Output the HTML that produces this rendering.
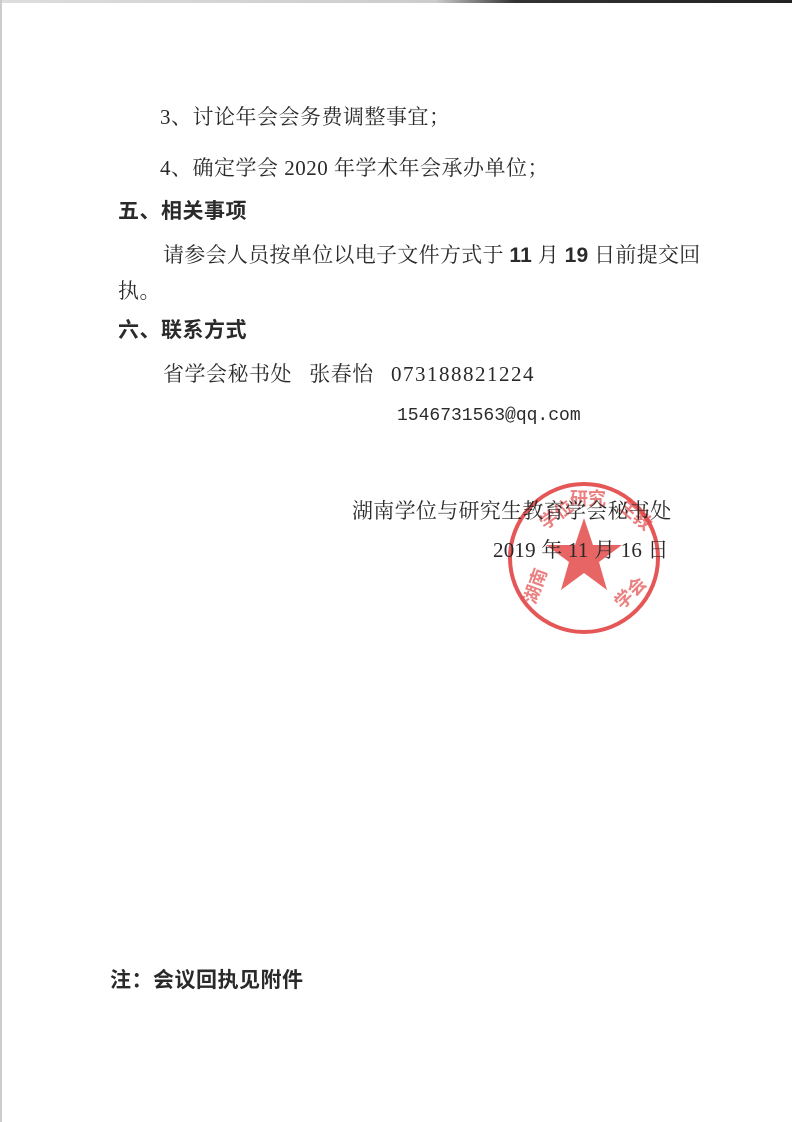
<!DOCTYPE html>
<html><head><meta charset="utf-8"><style>
html,body{margin:0;padding:0}
body{width:792px;height:1122px;background:#fff;position:relative;overflow:hidden;font-family:"Liberation Serif","Noto Serif CJK SC","Noto Sans CJK SC",serif;color:#2a2a2a}
.t{position:absolute;font-size:21px;line-height:26px;white-space:nowrap;letter-spacing:0.5px}
.b{font-family:"Liberation Sans","Noto Sans CJK SC",sans-serif;font-weight:bold}
.m{font-family:"Liberation Mono","Noto Serif CJK SC",monospace;font-size:18px;letter-spacing:0}
</style></head><body>
<div style="position:absolute;left:0;top:0;width:792px;height:3px;background:linear-gradient(90deg,#ddd,#ccc 55%,#333 65%,#222)"></div>
<div style="position:absolute;left:0;top:0;width:2px;height:1122px;background:#ccc"></div>
<svg style="position:absolute;left:0;top:0" width="792" height="1122">
<circle cx="584" cy="558" r="74" fill="none" stroke="#e0383a" stroke-width="4" opacity="0.85"/>
<polygon fill="#e34a4a" opacity="0.85" points="584,518 593,545 622,545 599,562 607,590 584,573 561,590 569,562 546,545 575,545"/>
<g fill="#e34a4a" opacity="0.7" font-family="Noto Sans CJK SC,sans-serif" font-size="18" font-weight="bold">
<text x="535" y="605" transform="rotate(-70 535 605)">湖南</text>
<text x="545" y="530" transform="rotate(-35 545 530)">学位</text>
<text x="570" y="505" transform="rotate(0 570 505)">研究</text>
<text x="618" y="508" transform="rotate(40 618 508)">生教</text>
<text x="622" y="610" transform="rotate(-45 622 610)">学会</text>
</g>
</svg>
<div class="t" style="left:160px;top:104px">3、讨论年会会务费调整事宜；</div>
<div class="t" style="left:160px;top:155px">4、确定学会 2020 年学术年会承办单位；</div>
<div class="t b" style="left:118px;top:199px">五、相关事项</div>
<div class="t" style="left:163px;top:242px;letter-spacing:0.3px">请参会人员按单位以电子文件方式于 <span class="b">11</span> 月 <span class="b">19</span> 日前提交回</div>
<div class="t" style="left:118px;top:278px">执。</div>
<div class="t b" style="left:118px;top:318px">六、联系方式</div>
<div class="t" style="left:163px;top:361px">省学会秘书处&nbsp;&nbsp;&nbsp;张春怡&nbsp;&nbsp;&nbsp;<span style="letter-spacing:1.5px">073188821224</span></div>
<div class="t m" style="left:397px;top:403px">1546731563@qq.com</div>
<div class="t" style="left:352px;top:498px;letter-spacing:0.3px">湖南学位与研究生教育学会秘书处</div>
<div class="t" style="left:493px;top:537px;letter-spacing:0.2px">2019 年 11 月 16 日</div>
<div class="t b" style="left:110px;top:968px">注：会议回执见附件</div>
</body></html>
